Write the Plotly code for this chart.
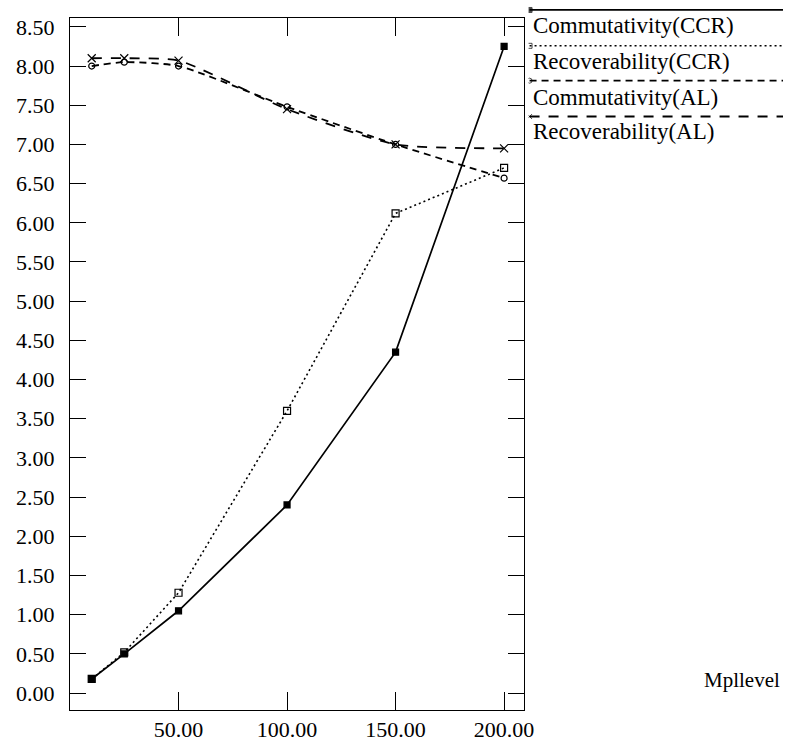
import plotly.graph_objects as go

mpl_level = [10, 25, 50, 100, 150, 200]
comm_ccr = [0.18, 0.50, 1.05, 2.40, 4.35, 8.25]
reco_ccr = [0.18, 0.52, 1.28, 3.60, 6.12, 6.70]
comm_al = [8.00, 8.05, 8.00, 7.48, 7.00, 6.57]
reco_al = [8.10, 8.10, 8.07, 7.45, 7.00, 6.95]

names = ["Commutativity(CCR)", "Recoverability(CCR)", "Commutativity(AL)", "Recoverability(AL)"]
series = [comm_ccr, reco_ccr, comm_al, reco_al]
dashes = ["solid", "2px,3px", "7px,5px", "10px,9px"]
symbols = ["square", "square-open", "circle-open", "x-thin-open"]
msizes = [6, 7, 6, 8]
widths = [1.7, 1.6, 1.8, 1.8]
shapes_ = ["linear", "linear", "spline", "spline"]

y_ticks = [i * 0.5 for i in range(18)]
x_ticks = [50, 100, 150, 200]

FONT = "Liberation Serif"
fig = go.Figure()

for nm, ys, d, s, ms, w, sh in zip(names, series, dashes, symbols, msizes, widths, shapes_):
    fig.add_trace(go.Scatter(
        x=mpl_level, y=ys, mode="lines+markers", name=nm,
        line=dict(color="black", width=w, dash=d, shape=sh, smoothing=0.6),
        marker=dict(symbol=s, size=ms, color="black",
                    line=dict(color="black", width=1.2)),
        showlegend=False, xaxis="x", yaxis="y"))

# custom legend drawn on an auxiliary axis (pixel-like coordinates)
leg_line_y = [7, 43, 78, 114]
leg_text_y = [23, 59, 95, 129]
for nm, d, s, w, ly, ty in zip(names, dashes, symbols, widths, leg_line_y, leg_text_y):
    fig.add_trace(go.Scatter(
        x=[536, 793], y=[ly, ly], mode="lines+markers",
        line=dict(color="black", width=w, dash=d),
        marker=dict(symbol=s, size=[5, 0], color="black",
                    line=dict(color="black", width=1)),
        showlegend=False, xaxis="x2", yaxis="y2", hoverinfo="skip"))
    fig.add_annotation(x=537, y=ty, xref="x2", yref="y2", text=nm,
                       showarrow=False, xanchor="left", yanchor="middle",
                       font=dict(family=FONT, size=23, color="black"))

fig.add_annotation(x=792, y=680, xref="x2", yref="y2", text="Mpllevel",
                   showarrow=False, xanchor="right", yanchor="middle",
                   font=dict(family=FONT, size=21, color="black"))

main_w = 460 / 723
fig.update_layout(
    width=793, height=747,
    margin=dict(l=70, r=0, t=0, b=37),
    paper_bgcolor="white", plot_bgcolor="white",
    font=dict(family=FONT, size=22, color="black"),
    xaxis=dict(domain=[0, main_w], range=[0, 209], tickvals=x_ticks,
               ticktext=[f"{v:.2f}" for v in x_ticks],
               ticks="inside", ticklen=18, tickcolor="black",
               showline=True, linecolor="black", linewidth=1, mirror="ticks",
               showgrid=False, zeroline=False, anchor="y",
               tickfont=dict(family=FONT, size=22, color="black")),
    yaxis=dict(domain=[0, 695 / 710], range=[-0.216, 8.614], tickvals=y_ticks,
               ticktext=[f"{v:.2f}" for v in y_ticks],
               ticks="inside", ticklen=16, tickcolor="black",
               showline=True, linecolor="black", linewidth=1, mirror="ticks",
               showgrid=False, zeroline=False, anchor="x", ticklabelstandoff=10,
               tickfont=dict(family=FONT, size=22, color="black")),
    xaxis2=dict(domain=[(535 - 70) / 723, 1], range=[535, 793], visible=False,
                anchor="y2", fixedrange=True),
    yaxis2=dict(domain=[0, 1], range=[710, 0], visible=False, anchor="x2",
                fixedrange=True),
)

fig.write_html("out.html", config={"displayModeBar": False},
               post_script="document.body.style.margin='0';")
